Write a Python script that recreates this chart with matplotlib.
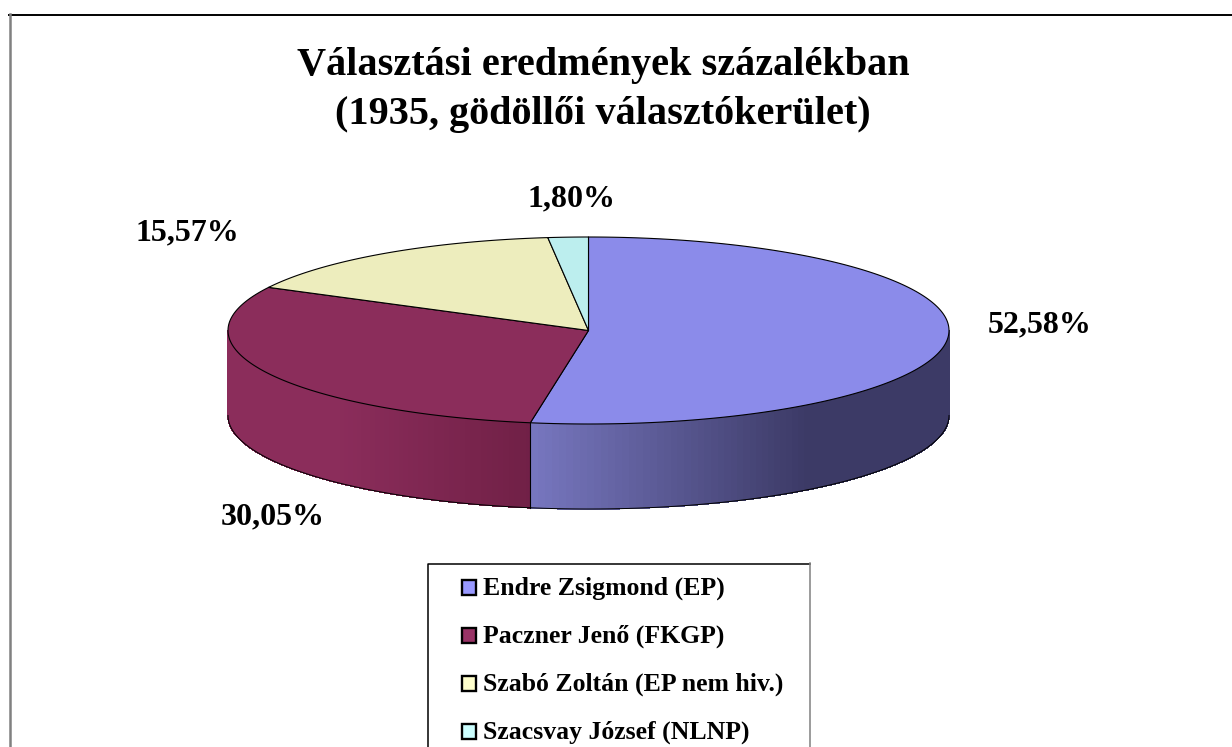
import matplotlib
matplotlib.use('Agg')
import numpy as np
import matplotlib.pyplot as plt
from matplotlib.patches import Polygon, Rectangle

# slices, clockwise from 12 o'clock
names = ["Endre Zsigmond (EP)", "Paczner Jenő (FKGP)", "Szabó Zoltán (EP nem hiv.)", "Szacsvay József (NLNP)"]
shares = [52.58, 30.05, 15.57, 1.80]
share_labels = ["52,58%", "30,05%", "15,57%", "1,80%"]
title = "Választási eredmények százalékban\n(1935, gödöllői választókerület)"

top_colors = ["#8B8BEA", "#8B2D5B", "#EDEDBD", "#BCEEEE"]
legend_colors = ["#9999FF", "#993366", "#FFFFCC", "#CCFFFF"]
# wall shade: left colour, right colour, where the ramp starts and ends along the wall
wall_ramps = {0: ("#7676BE", "#3C3A66", 0.0, 0.65), 1: ("#8B2D5B", "#702046", 0.35, 1.0)}

cx, cy = 588.5, 330.5
rx, ry = 360.5, 93.5
depth = 85
label_pos = [(1040, 325), (273, 517), (187, 233), (571, 199)]

plt.rcParams['font.family'] = ['Liberation Serif', 'DejaVu Serif']

fig = plt.figure(figsize=(12.32, 7.47), dpi=100)
ax = fig.add_axes([0, 0, 1, 1])
ax.set_xlim(0, 1232)
ax.set_ylim(747, 0)
ax.axis('off')


def rim(a):
    # a is in degrees, clockwise from the top
    r = np.radians(a)
    return cx + rx * np.sin(r), cy - ry * np.cos(r)


edges = np.concatenate([[0], np.cumsum(shares) / np.sum(shares) * 360])

# outer walls, only the part facing the viewer (90..270 deg)
for i, ramp in wall_ramps.items():
    a0, a1 = max(edges[i], 90), min(edges[i + 1], 270)
    steps = np.linspace(a0, a1, 90)
    xs, ys = rim(steps)
    c_left = np.array(matplotlib.colors.to_rgb(ramp[0]))
    c_right = np.array(matplotlib.colors.to_rgb(ramp[1]))
    x_left, x_right = xs.min(), xs.max()
    x_from = x_left + (x_right - x_left) * ramp[2]
    x_to = x_left + (x_right - x_left) * ramp[3]
    for j in range(len(steps) - 1):
        t = np.clip((min(xs[j], xs[j + 1]) - x_from) / (x_to - x_from), 0, 1)
        col = c_left + (c_right - c_left) * t
        ax.add_patch(Polygon([(xs[j], ys[j]), (xs[j + 1], ys[j + 1]),
                              (xs[j + 1], ys[j + 1] + depth), (xs[j], ys[j] + depth)],
                             closed=True, fc=col, ec=col, lw=0.5, antialiased=False, zorder=2))
    ax.plot(xs, ys + depth, color='black', lw=0.7, zorder=3)

# seam between the two walls
seam_x, seam_y = rim(edges[1])
ax.plot([seam_x, seam_x], [seam_y, seam_y + depth], color='black', lw=0.8, zorder=3)

# top faces
for i in range(len(shares)):
    steps = np.linspace(edges[i], edges[i + 1], 200)
    xs, ys = rim(steps)
    pts = [(cx, cy)] + list(zip(xs, ys))
    ax.add_patch(Polygon(pts, closed=True, fc=top_colors[i], ec='black', lw=0.8,
                         joinstyle='round', zorder=4))

for lab, (x, y) in zip(share_labels, label_pos):
    ax.text(x, y, lab, ha='center', va='center', fontsize=23, fontweight='bold', color='black', zorder=6)

ax.text(603, 90, title, ha='center', va='center', fontsize=29, fontweight='bold',
        linespacing=1.44, color='black', zorder=6)

# chart frame: only top and left sides are in the picture
ax.plot([9, 1232], [14.5, 14.5], color='black', lw=1.4, zorder=1)
ax.plot([10, 10], [14, 747], color='#808080', lw=1.8, zorder=1)

# legend box, cut by the bottom of the picture
ax.plot([427.5, 427.5, 810], [747, 563.5, 563.5], color='black', lw=1.1, zorder=1)
ax.plot([810, 810], [563, 747], color='#808080', lw=1.1, zorder=1)
legend_y = [587, 635, 683, 731]
for name, col, y in zip(names, legend_colors, legend_y):
    ax.add_patch(Rectangle((461.5, y - 7), 14.5, 14.5, fc=col, ec='black', lw=1.7, zorder=4))
    ax.text(483, y + 1, name, ha='left', va='center', fontsize=18.5, fontweight='bold', color='black', zorder=6)

fig.savefig('out.png', dpi=100)
